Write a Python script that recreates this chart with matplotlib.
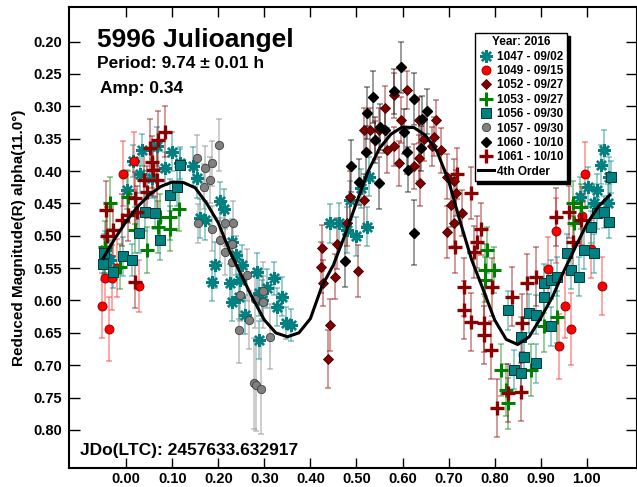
import matplotlib
matplotlib.use('Agg')
import matplotlib.pyplot as plt
from matplotlib.lines import Line2D

plt.rcParams['font.family'] = ['Liberation Sans', 'DejaVu Sans']
plt.rcParams['font.weight'] = 'bold'

# --- session 1047 - 09/02 (teal asterisks)
ph_1047 = [-0.046, -0.035, 0.001, 0.015, 0.030, 0.034, 0.056, 0.067, 0.085, 0.099, 0.117, 0.146,
           0.154, 0.161, 0.172, 0.187, 0.193, 0.204, 0.212, 0.226, 0.230, 0.230, 0.239, 0.252,
           0.244, 0.248, 0.259, 0.284, 0.288, 0.288, 0.296, 0.306, 0.320, 0.328, 0.338, 0.346,
           0.357, 0.443, 0.462, 0.480, 0.487, 0.498, 0.509, 0.523, 0.527, 0.985, 1.002, 1.016,
           1.023, 1.030, 1.037, 1.045, 1.049]
mag_1047 = [0.522, 0.537, 0.429, 0.385, 0.404, 0.368, 0.411, 0.362, 0.396, 0.370, 0.388, 0.393,
            0.411, 0.473, 0.476, 0.571, 0.545, 0.447, 0.458, 0.573, 0.509, 0.602, 0.530, 0.545,
            0.594, 0.568, 0.622, 0.556, 0.589, 0.661, 0.599, 0.581, 0.566, 0.610, 0.594, 0.635,
            0.638, 0.481, 0.480, 0.491, 0.445, 0.501, 0.427, 0.486, 0.409, 0.440, 0.424, 0.450,
            0.429, 0.390, 0.367, 0.450, 0.409]
err_1047 = [0.03, 0.03, 0.03, 0.025, 0.03, 0.025, 0.03, 0.03, 0.025, 0.03, 0.025, 0.03,
            0.03, 0.03, 0.03, 0.03, 0.035, 0.03, 0.03, 0.03, 0.035, 0.03, 0.03, 0.03,
            0.035, 0.03, 0.03, 0.03, 0.035, 0.03, 0.03, 0.03, 0.025, 0.03, 0.03, 0.025,
            0.025, 0.03, 0.03, 0.035, 0.03, 0.03, 0.03, 0.03, 0.03, 0.03, 0.03, 0.03,
            0.025, 0.03, 0.03, 0.03, 0.03]

# --- 1049 - 09/15 (red circles)
ph_1049 = [-0.052, -0.045, -0.038, -0.030, -0.020, -0.007, 0.017, 0.029, 0.916, 0.933, 0.940,
           0.952, 0.965, 0.990, 0.996, 1.010, 1.033]
mag_1049 = [0.608, 0.565, 0.644, 0.565, 0.550, 0.404, 0.384, 0.578, 0.552, 0.492, 0.671,
            0.608, 0.644, 0.470, 0.405, 0.520, 0.578]
err_1049 = [0.05, 0.045, 0.05, 0.05, 0.045, 0.05, 0.045, 0.04, 0.05, 0.05, 0.05,
            0.05, 0.055, 0.045, 0.05, 0.045, 0.045]

# --- 1052 - 09/27 (dark red diamonds)
ph_1052 = [0.423, 0.425, 0.427, 0.439, 0.442, 0.454, 0.458, 0.480, 0.487, 0.503, 0.516, 0.516,
           0.530, 0.541, 0.549, 0.563, 0.567, 0.581, 0.581, 0.593, 0.596, 0.609, 0.625, 0.636,
           0.636, 0.639, 0.646, 0.665, 0.668, 0.672, 0.683, 0.697, 0.697, 0.705, 0.712, 0.712,
           0.717, 0.730]
mag_1052 = [0.549, 0.519, 0.573, 0.690, 0.638, 0.563, 0.512, 0.481, 0.440, 0.555, 0.445, 0.337,
            0.337, 0.352, 0.337, 0.303, 0.368, 0.283, 0.362, 0.388, 0.321, 0.275, 0.393, 0.321,
            0.380, 0.419, 0.350, 0.362, 0.347, 0.321, 0.368, 0.409, 0.494, 0.452, 0.416, 0.481,
            0.434, 0.465]
err_1052 = [0.04, 0.035, 0.035, 0.045, 0.04, 0.035, 0.04, 0.035, 0.04, 0.04, 0.04, 0.035,
            0.035, 0.03, 0.035, 0.035, 0.035, 0.035, 0.03, 0.035, 0.035, 0.03, 0.035, 0.035,
            0.035, 0.035, 0.035, 0.03, 0.03, 0.03, 0.035, 0.035, 0.04, 0.035, 0.035, 0.035,
            0.035, 0.035]

# --- 1053 - 09/27 (green plus)
ph_1053 = [-0.046, -0.035, -0.013, 0.005, 0.020, 0.045, 0.070, 0.074, 0.096, 0.096, 0.114,
           0.780, 0.780, 0.784, 0.798, 0.813, 0.824, 0.828, 0.878, 0.907, 0.936, 0.969, 0.972, 0.987]
mag_1053 = [0.517, 0.450, 0.548, 0.440, 0.491, 0.522, 0.486, 0.471, 0.471, 0.489, 0.458,
            0.553, 0.568, 0.522, 0.553, 0.707, 0.738, 0.759, 0.707, 0.640, 0.625, 0.450, 0.481, 0.455]
err_1053 = [0.04, 0.04, 0.035, 0.04, 0.035, 0.035, 0.04, 0.035, 0.035, 0.035, 0.035,
            0.04, 0.035, 0.035, 0.035, 0.04, 0.04, 0.04, 0.04, 0.04, 0.04, 0.035, 0.035, 0.035]

# --- 1056 - 09/30 (teal squares)
ph_1056 = [-0.051, -0.049, -0.028, -0.006, 0.012, 0.027, 0.041, 0.063, 0.074, 0.096, 0.110, 0.117,
           0.828, 0.842, 0.857, 0.857, 0.864, 0.875, 0.889, 0.889, 0.907, 0.907, 0.922, 0.922,
           0.936, 0.958, 0.965, 0.983, 0.994, 1.009, 1.016, 1.023, 1.038, 1.049, 1.052]
mag_1056 = [0.543, 0.527, 0.556, 0.532, 0.537, 0.496, 0.463, 0.465, 0.507, 0.437, 0.424, 0.391,
            0.615, 0.707, 0.712, 0.656, 0.687, 0.620, 0.622, 0.697, 0.573, 0.594, 0.568, 0.640,
            0.563, 0.527, 0.553, 0.563, 0.522, 0.486, 0.527, 0.465, 0.463, 0.478, 0.409]
err_1056 = [0.025, 0.03, 0.025, 0.03, 0.025, 0.03, 0.03, 0.025, 0.03, 0.025, 0.03, 0.025,
            0.03, 0.03, 0.03, 0.03, 0.03, 0.03, 0.03, 0.03, 0.03, 0.025, 0.03, 0.03,
            0.03, 0.03, 0.03, 0.03, 0.03, 0.025, 0.03, 0.025, 0.025, 0.025, 0.025]

# --- 1057 - 09/30 (gray circles)
ph_1057 = [0.154, 0.157, 0.168, 0.172, 0.183, 0.186, 0.186, 0.201, 0.204, 0.215, 0.215, 0.230,
           0.230, 0.233, 0.244, 0.248, 0.262, 0.266, 0.277, 0.280, 0.283, 0.293, 0.297, 0.298, 0.313]
mag_1057 = [0.380, 0.481, 0.424, 0.396, 0.414, 0.388, 0.489, 0.360, 0.507, 0.481, 0.525, 0.512,
            0.540, 0.481, 0.646, 0.591, 0.561, 0.630, 0.728, 0.597, 0.731, 0.736, 0.602, 0.586, 0.656]
err_1057 = [0.035, 0.03, 0.035, 0.035, 0.035, 0.035, 0.035, 0.04, 0.035, 0.035, 0.035, 0.035,
            0.035, 0.035, 0.05, 0.04, 0.04, 0.045, 0.07, 0.045, 0.07, 0.07, 0.04, 0.045, 0.05]

# --- 1060 - 10/10 (black diamonds)
ph_1060 = [0.475, 0.489, 0.505, 0.521, 0.522, 0.535, 0.541, 0.549, 0.552, 0.563, 0.581, 0.597,
           0.603, 0.610, 0.612, 0.625, 0.626, 0.641, 0.643, 0.654]
mag_1060 = [0.539, 0.392, 0.417, 0.370, 0.311, 0.286, 0.352, 0.419, 0.332, 0.337, 0.277, 0.240,
            0.339, 0.370, 0.398, 0.289, 0.495, 0.365, 0.319, 0.308]
err_1060 = [0.04, 0.04, 0.035, 0.04, 0.04, 0.04, 0.035, 0.04, 0.035, 0.035, 0.035, 0.04,
            0.035, 0.035, 0.035, 0.04, 0.05, 0.035, 0.035, 0.035]

# --- 1061 - 10/10 (dark red plus)
ph_1061 = [-0.043, -0.042, -0.028, -0.009, 0.005, 0.020, 0.020, 0.023, 0.038, 0.045, 0.052, 0.056,
           0.059, 0.067, 0.070, 0.085, 0.715, 0.719, 0.733, 0.733, 0.748, 0.749, 0.755, 0.762,
           0.770, 0.777, 0.777, 0.791, 0.795, 0.806, 0.828, 0.838, 0.857, 0.860, 0.871, 0.889,
           0.933, 0.961, 0.969, 0.987]
mag_1061 = [0.460, 0.501, 0.491, 0.476, 0.468, 0.442, 0.571, 0.463, 0.414, 0.432, 0.365, 0.386,
            0.398, 0.414, 0.352, 0.339, 0.517, 0.404, 0.579, 0.615, 0.434, 0.633, 0.525, 0.510,
            0.490, 0.635, 0.653, 0.676, 0.579, 0.766, 0.743, 0.594, 0.741, 0.635, 0.573, 0.563,
            0.471, 0.463, 0.509, 0.476]
err_1061 = [0.045, 0.045, 0.04, 0.04, 0.04, 0.04, 0.04, 0.04, 0.045, 0.04, 0.045, 0.04,
            0.04, 0.045, 0.045, 0.04, 0.04, 0.04, 0.045, 0.045, 0.04, 0.045, 0.04, 0.04,
            0.04, 0.045, 0.045, 0.045, 0.045, 0.045, 0.045, 0.045, 0.045, 0.045, 0.045, 0.045,
            0.045, 0.04, 0.04, 0.04]

# --- 4th order fit
fit_phase = [-0.05, -0.025, 0.0, 0.025, 0.05, 0.075, 0.10, 0.125, 0.15, 0.175, 0.20, 0.225,
             0.25, 0.275, 0.30, 0.325, 0.35, 0.375, 0.40, 0.425, 0.45, 0.475, 0.50, 0.525,
             0.55, 0.575, 0.60, 0.625, 0.65, 0.675, 0.70, 0.725, 0.75, 0.775, 0.80, 0.825,
             0.85, 0.875, 0.90, 0.925, 0.95, 0.975, 1.0, 1.025, 1.05]
fit_mag = [0.535, 0.505, 0.478, 0.455, 0.437, 0.424, 0.417, 0.418, 0.426, 0.450, 0.480, 0.524,
           0.561, 0.597, 0.630, 0.650, 0.656, 0.650, 0.628, 0.578, 0.545, 0.499, 0.449, 0.401,
           0.365, 0.343, 0.332, 0.333, 0.345, 0.370, 0.415, 0.478, 0.537, 0.583, 0.630, 0.660,
           0.668, 0.656, 0.627, 0.595, 0.555, 0.518, 0.482, 0.455, 0.437]

x_ticks = [0.0, 0.1, 0.2, 0.3, 0.4, 0.5, 0.6, 0.7, 0.8, 0.9, 1.0]
x_labels = ['0.00', '0.10', '0.20', '0.30', '0.40', '0.50', '0.60', '0.70', '0.80', '0.90', '1.00']
y_ticks = [0.20, 0.25, 0.30, 0.35, 0.40, 0.45, 0.50, 0.55, 0.60, 0.65, 0.70, 0.75, 0.80]
y_labels = ['0.20', '0.25', '0.30', '0.35', '0.40', '0.45', '0.50', '0.55', '0.60', '0.65',
            '0.70', '0.75', '0.80']

TEAL = '#008080'
series = [
    ('1047 - 09/02', ph_1047, mag_1047, err_1047, TEAL,
     dict(marker=(8, 2, 0), ms=9, mew=1.7, color=TEAL)),
    ('1049 - 09/15', ph_1049, mag_1049, err_1049, '#ff2020',
     dict(marker='o', ms=6.5, mfc='#ff0000', mec='#800000', mew=0.6)),
    ('1052 - 09/27', ph_1052, mag_1052, err_1052, '#8b0000',
     dict(marker='D', ms=5, mfc='#800000', mec='#400000', mew=0.6)),
    ('1053 - 09/27', ph_1053, mag_1053, err_1053, '#008000',
     dict(marker='+', ms=10, mew=2.2, color='#008000')),
    ('1056 - 09/30', ph_1056, mag_1056, err_1056, TEAL,
     dict(marker='s', ms=7, mfc=TEAL, mec='#003838', mew=0.7)),
    ('1057 - 09/30', ph_1057, mag_1057, err_1057, '#808080',
     dict(marker='o', ms=6, mfc='#808080', mec='#404040', mew=0.6)),
    ('1060 - 10/10', ph_1060, mag_1060, err_1060, '#000000',
     dict(marker='D', ms=5, mfc='black', mec='black')),
    ('1061 - 10/10', ph_1061, mag_1061, err_1061, '#8b0000',
     dict(marker='+', ms=10, mew=2.4, color='#8b0000')),
]

fig = plt.figure(figsize=(6.37, 4.87), dpi=100)
ax = fig.add_axes([69 / 637, 1 - 468 / 487, 568 / 637, 461 / 487])

handles = []
for label, ph, mag, err, ecol, style in series:
    ax.errorbar(ph, mag, yerr=err, fmt='none', ecolor=ecol, elinewidth=1.1,
                capsize=2.5, capthick=1.1, alpha=0.5, zorder=2)
    ax.plot(ph, mag, ls='none', zorder=3, **style)
    handles.append(Line2D([], [], ls='none', **style))

ax.plot(fit_phase, fit_mag, color='black', lw=2.2, zorder=4)
handles.append(Line2D([], [], color='black', lw=2.2))
labels = [s[0] for s in series] + ['4th Order']

ax.set_xlim(-0.124, 1.109)
ax.set_ylim(0.8587, 0.1467)
ax.set_xticks(x_ticks, x_labels)
ax.set_yticks(y_ticks, y_labels)
ax.tick_params(axis='x', direction='in', length=7, width=1, top=True, labelsize=10.5, pad=3)
ax.tick_params(axis='y', direction='in', length=8, width=1, right=True, labelsize=10.5, pad=5)
for sp in ax.spines.values():
    sp.set_linewidth(1.5)
ax.set_ylabel('Reduced Magnitude(R) alpha(11.0°)', fontsize=11, fontweight='bold', labelpad=5)

leg = ax.legend(handles, labels, title='Year: 2016', loc='upper right',
                bbox_to_anchor=(0.877, 0.944), fontsize=8.5, title_fontsize=8.5,
                frameon=True, fancybox=False, edgecolor='black', framealpha=1,
                shadow={'color': 'black', 'alpha': 1}, labelspacing=0.2,
                handlelength=1.3, handletextpad=0.3, borderpad=0.3, borderaxespad=0)
leg.get_title().set_fontweight('bold')
leg.get_frame().set_linewidth(1)

fig.text(97 / 637, 1 - 47 / 487, '5996 Julioangel', fontsize=19, fontweight='bold', va='baseline')
fig.text(97 / 637, 1 - 68 / 487, 'Period: 9.74 ± 0.01 h', fontsize=12.5, fontweight='bold', va='baseline')
fig.text(100 / 637, 1 - 93 / 487, 'Amp: 0.34', fontsize=12.5, fontweight='bold', va='baseline')
fig.text(80 / 637, 1 - 455 / 487, 'JDo(LTC): 2457633.632917', fontsize=12.5, fontweight='bold',
         va='baseline')

fig.savefig('out.png', dpi=100)
plt.close(fig)
